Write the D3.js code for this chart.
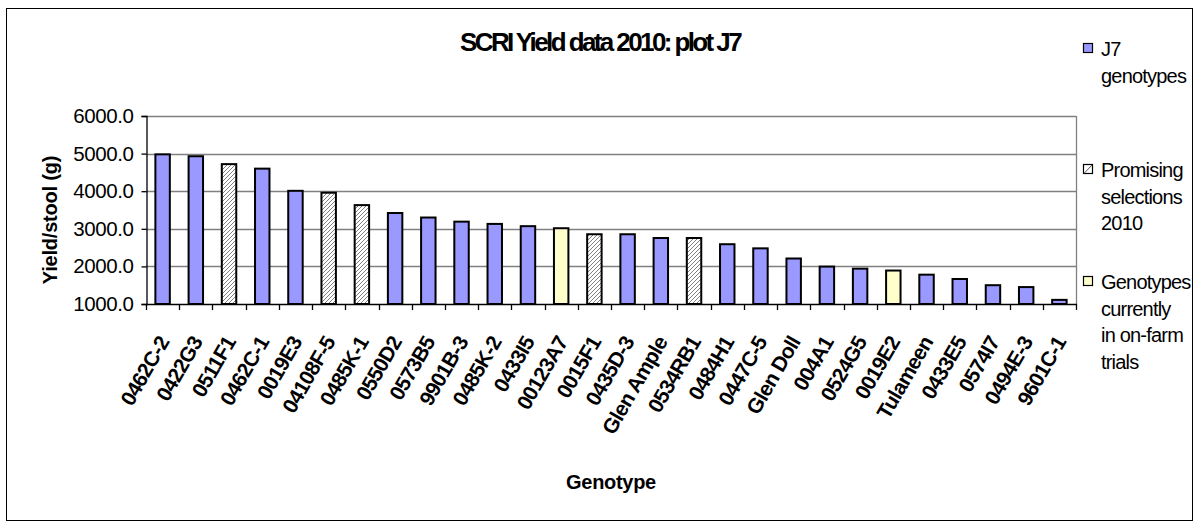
<!DOCTYPE html>
<html>
<head>
<meta charset="utf-8">
<script src="https://cdn.jsdelivr.net/npm/d3@7"></script>
<style>
  html, body { margin: 0; padding: 0; background: #fff; }
  svg { display: block; font-family: "Liberation Sans", Arial, sans-serif; }
</style>
</head>
<body>
<div id="chart"></div>
<script>
// ---- data ----
const genotypes = ["0462C-2","0422G3","0511F1","0462C-1","0019E3","04108F-5","0485K-1","0550D2","0573B5","9901B-3","0485K-2","0433I5","00123A7","0015F1","0435D-3","Glen Ample","0534RB1","0484H1","0447C-5","Glen Doll","004A1","0524G5","0019E2","Tulameen","0433E5","0574I7","0494E-3","9601C-1"];
const yields = [4980,4930,4720,4600,4010,3960,3630,3420,3300,3190,3130,3070,3015,2855,2855,2755,2755,2590,2480,2210,1995,1940,1890,1780,1665,1500,1450,1110];
// series index per genotype: 0 = J7 genotypes, 1 = Promising selections 2010, 2 = on-farm trials
const seriesOf = [0,0,1,0,0,1,1,0,0,0,0,0,2,1,0,0,1,0,0,0,0,0,2,0,0,0,0,0];
const seriesNames = [["J7","genotypes"],["Promising","selections","2010"],["Genotypes","currently","in on-farm","trials"]];
const yTicks = [1000,2000,3000,4000,5000,6000];
const title = "SCRI Yield data 2010: plot J7";
const xTitle = "Genotype";
const yTitle = "Yield/stool (g)";

// ---- layout ----
const W = 1200, H = 525;
const plot = {left: 146, right: 1076, top: 116, bottom: 304};
const fills = ["#9999FF", "url(#hatch)", "#FFFFCC"];

const svg = d3.select("#chart").append("svg").attr("width", W).attr("height", H);
const defs = svg.append("defs");
const pat = defs.append("pattern").attr("id","hatch").attr("patternUnits","userSpaceOnUse")
  .attr("width",4).attr("height",4);
pat.append("rect").attr("width",4).attr("height",4).attr("fill","#fff");
pat.append("path").attr("d","M-1,1 l2,-2 M0,4 l4,-4 M3,5 l2,-2").attr("stroke","#808080").attr("stroke-width",1);

svg.append("rect").attr("width",W).attr("height",H).attr("fill","#fff");
// outer chart border
svg.append("rect").attr("x",6.5).attr("y",8.5).attr("width",1186).attr("height",512)
  .attr("fill","none").attr("stroke","#000").attr("stroke-width",1);

const x = d3.scaleBand().domain(genotypes).range([plot.left, plot.right])
  .paddingInner(0.565).paddingOuter(0.2825);
const y = d3.scaleLinear().domain([1000, 6000]).range([plot.bottom, plot.top]);

// gridlines
svg.append("g").selectAll("line").data(yTicks.slice(1)).join("line")
  .attr("x1", plot.left).attr("x2", plot.right)
  .attr("y1", d => Math.round(y(d)) + 0.5).attr("y2", d => Math.round(y(d)) + 0.5)
  .attr("stroke", "#808080").attr("stroke-width", 1.3);
// right border of plot area
svg.append("line").attr("x1", plot.right + 0.5).attr("x2", plot.right + 0.5)
  .attr("y1", plot.top).attr("y2", plot.bottom).attr("stroke", "#808080").attr("stroke-width", 1.3);

// bars
svg.append("g").selectAll("rect").data(genotypes).join("rect")
  .attr("x", d => x(d))
  .attr("y", (d, i) => y(yields[i]))
  .attr("width", x.bandwidth())
  .attr("height", (d, i) => y(1000) - y(yields[i]))
  .attr("fill", (d, i) => fills[seriesOf[i]])
  .attr("stroke", "#000").attr("stroke-width", 2);

// y axis
const yAxis = svg.append("g").attr("transform", `translate(${plot.left + 0.5},0)`)
  .call(d3.axisLeft(y).tickValues(yTicks).tickFormat(d3.format(".1f")).tickSize(5).tickPadding(8));
yAxis.select(".domain").attr("stroke", "#000").attr("stroke-width", 1.3);
yAxis.selectAll(".tick line").attr("stroke", "#000").attr("stroke-width", 1.3);
yAxis.selectAll(".tick text").attr("font-size", 20.5).attr("font-family", '"Liberation Sans", Arial, sans-serif')
  .attr("fill", "#000").attr("letter-spacing", "-0.4px");

// x axis line + ticks at category boundaries
const step = x.step();
const bounds = genotypes.map(d => x(d) + x.bandwidth() / 2 - step / 2)
  .concat([x(genotypes[genotypes.length - 1]) + x.bandwidth() / 2 + step / 2]);
svg.append("line").attr("x1", plot.left).attr("x2", plot.right + 1)
  .attr("y1", plot.bottom + 0.5).attr("y2", plot.bottom + 0.5).attr("stroke", "#000").attr("stroke-width", 1.3);
svg.append("g").selectAll("line").data(bounds).join("line")
  .attr("x1", d => Math.round(d) + 0.5).attr("x2", d => Math.round(d) + 0.5)
  .attr("y1", plot.bottom).attr("y2", plot.bottom + 6).attr("stroke", "#000").attr("stroke-width", 1.3);

// x tick labels
svg.append("g").selectAll("text").data(genotypes).join("text")
  .attr("transform", d => `translate(${x(d) + x.bandwidth() / 2 + 1},338) rotate(-60)`)
  .attr("text-anchor", "end").attr("dy", "0.35em")
  .attr("font-size", 21).attr("font-weight", "bold").attr("letter-spacing", "-0.7px")
  .text(d => d);

// titles
svg.append("text").attr("x", 600).attr("y", 51).attr("text-anchor", "middle")
  .attr("font-size", 26).attr("font-weight", "bold").attr("letter-spacing", "-2.6px").text(title);
svg.append("text").attr("x", 611).attr("y", 489).attr("text-anchor", "middle")
  .attr("font-size", 20).attr("font-weight", "bold").attr("letter-spacing", "-0.3px").text(xTitle);
svg.append("text").attr("transform", "translate(57,220) rotate(-90)").attr("text-anchor", "middle")
  .attr("font-size", 20).attr("font-weight", "bold").attr("letter-spacing", "-0.2px").text(yTitle);

// legend
const legendTop = [56, 177, 289];
const lineH = 26.5;
const lg = svg.append("g");
seriesNames.forEach((lines, s) => {
  const g = lg.append("g");
  g.append("rect").attr("x", 1083.5).attr("y", legendTop[s] - 12.5).attr("width", 9).attr("height", 9)
    .attr("fill", s === 1 ? "#fff" : fills[s]).attr("stroke", "#000").attr("stroke-width", 1.2);
  if (s === 1) {
    g.append("line").attr("x1", 1084).attr("y1", legendTop[s] - 3.5).attr("x2", 1092).attr("y2", legendTop[s] - 12)
      .attr("stroke", "#555").attr("stroke-width", 1);
  }
  g.selectAll("text").data(lines).join("text")
    .attr("x", 1101).attr("y", (d, i) => legendTop[s] + i * lineH)
    .attr("font-size", 20).attr("letter-spacing", "-0.8px").text(d => d);
});
</script>
</body>
</html>
